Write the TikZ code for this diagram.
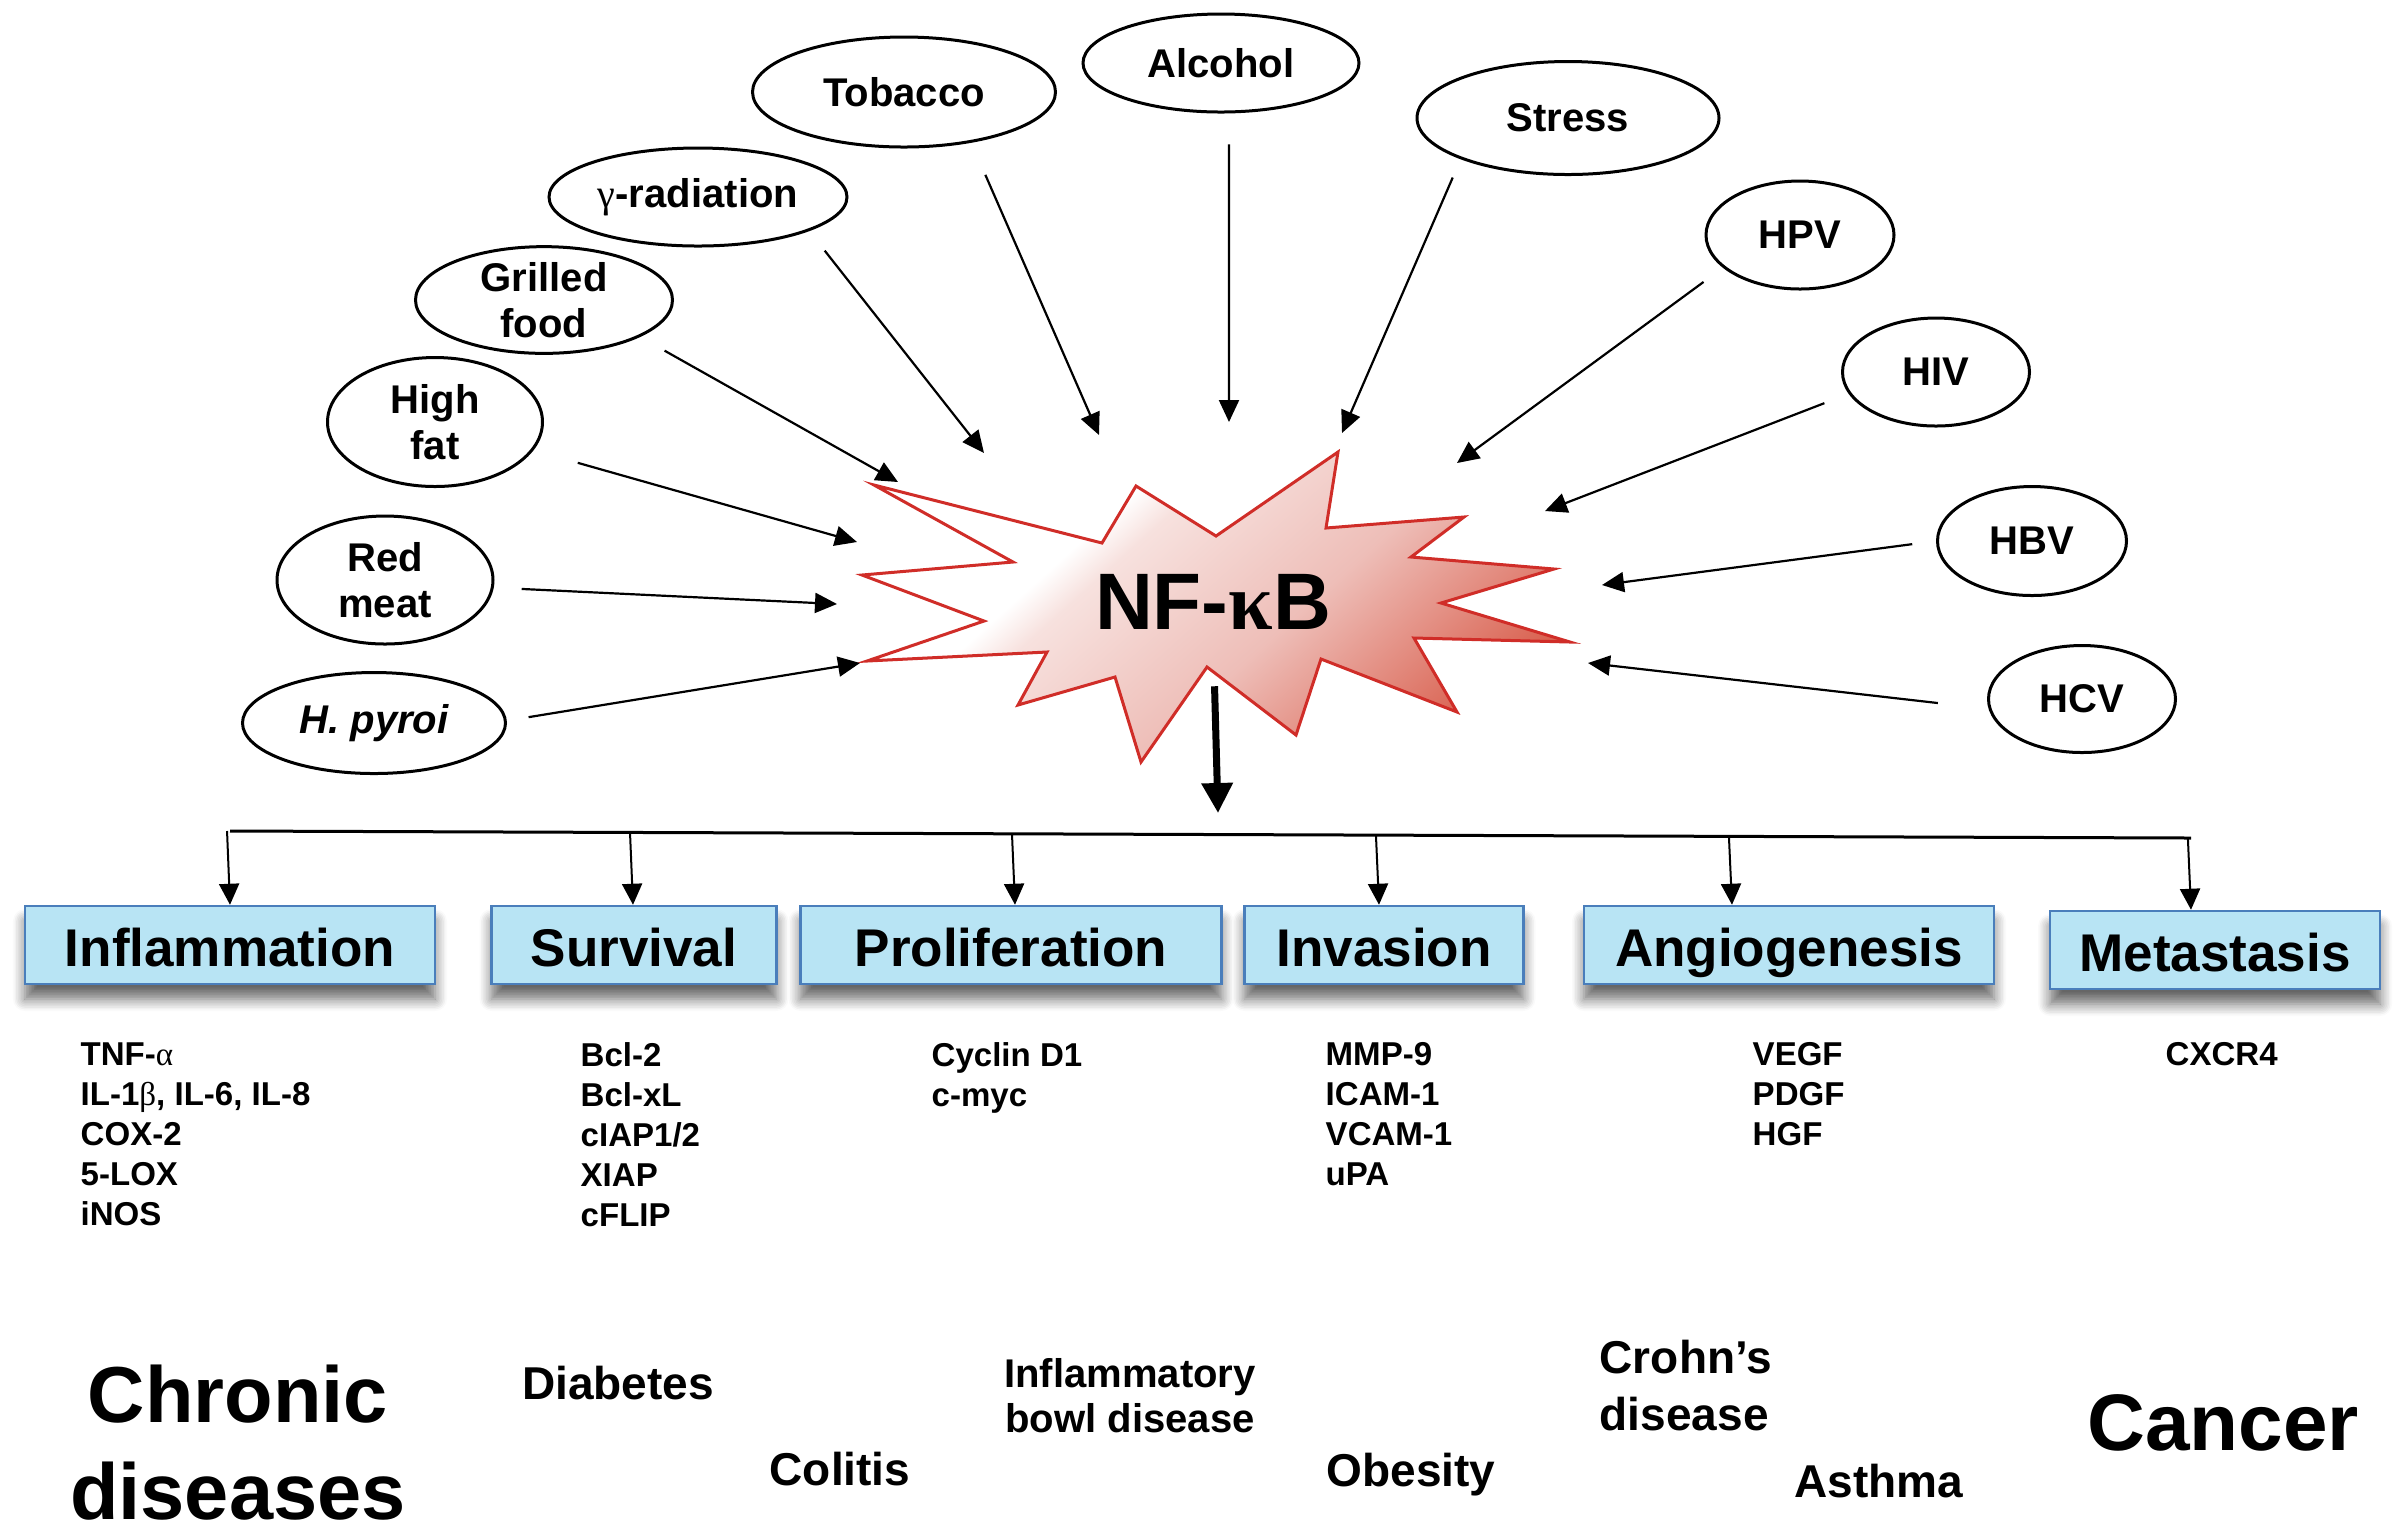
\documentclass[tikz,border=0pt]{standalone}
\usepackage{fontspec}
\setmainfont{Liberation Sans}
\newfontfamily\serifgr{Liberation Serif}
\usetikzlibrary{arrows.meta,shapes.geometric,shadows.blur,calc}
\definecolor{burstline}{RGB}{208,45,40}
\definecolor{burstpale}{RGB}{247,225,222}
\definecolor{burstpink}{RGB}{238,190,184}
\definecolor{burstred}{RGB}{216,92,74}
\definecolor{boxfill}{RGB}{184,228,244}
\definecolor{boxline}{RGB}{74,126,187}
\pgfdeclarehorizontalshading{burstfill}{100bp}{color(0bp)=(white); color(36bp)=(white); color(40bp)=(burstpale); color(56bp)=(burstpink); color(76bp)=(burstred); color(100bp)=(burstred)}
\newcommand{\gr}[1]{{\serifgr\mdseries #1}}
\tikzset{
  oval/.style n args={2}{ellipse, draw, line width=0.3mm, inner sep=0pt, align=center,
    minimum width=#1*0.1mm, minimum height=#2*0.1mm,
    font=\bfseries\fontsize{11.4}{13.1}\selectfont},
  hit/.style={-{Triangle[length=2.2mm,width=2mm]}, line width=0.22mm},
  outcome/.style n args={2}{draw=boxline, line width=0.25mm, fill=boxfill, inner sep=0pt,
    minimum width=#1*0.1mm, minimum height=#2*0.1mm, text height=4.2mm, text depth=0pt,
    font=\bfseries\fontsize{15.1}{18}\selectfont,
    blur shadow={shadow xshift=0pt, shadow yshift=-1.5mm, shadow blur radius=1.2mm, shadow blur steps=8, shadow opacity=60}},
  feed/.style={-{Triangle[length=2.1mm,width=2mm]}, line width=0.2mm},
  genes/.style={anchor=north west, align=left, inner sep=0pt,
    font=\bfseries\fontsize{9.4}{11.38}\selectfont},
  ill/.style={inner sep=0pt, font=\bfseries\fontsize{13.1}{15}\selectfont}
}

\begin{document}
\begin{tikzpicture}[x=0.1mm, y=-0.1mm]
  \useasboundingbox (0,0) rectangle (2408,1536);

  % the NF-kB burst
  \shadedraw[draw=burstline, line width=0.3mm, shading=burstfill, shading angle=-48]
    (874,485) -- (1102,543) -- (1136,486) -- (1216,536) -- (1338,452) -- (1326,528)
    -- (1464,517) -- (1411,557) -- (1554,569) -- (1441,603) -- (1570,642) -- (1414,638)
    -- (1457,712) -- (1321,659) -- (1296,735) -- (1207,667) -- (1141,762) -- (1115,677)
    -- (1018,705) -- (1047,652) -- (867,661) -- (984,621) -- (862,575) -- (1013,562) -- cycle;
  \node[inner sep=0pt, font=\bfseries\fontsize{22.8}{26}\selectfont] (nfkb) at (1213,602) {NF-{\serifgr κ}B};

  % causes
  \node[oval={303}{110}] (tobacco) at (904,92) {Tobacco};
  \node[oval={276}{98}] (alcohol) at (1221,63) {Alcohol};
  \node[oval={302}{113}] (stress) at (1568,118) {Stress};
  \node[oval={188}{108}] (hpv) at (1800,235) {HPV};
  \node[oval={187}{108}] (hiv) at (1936,372) {HIV};
  \node[oval={189}{109}] (hbv) at (2032,541) {HBV};
  \node[oval={187}{107}] (hcv) at (2082,699) {HCV};
  \node[oval={298}{98}] (gamma) at (698,197) {\gr{γ}-radiation};
  \node[oval={257}{103}] (grilled) at (544,300) {Grilled\\food};
  \node[oval={215}{129}] (highfat) at (435,422) {High\\fat};
  \node[oval={216}{128}] (redmeat) at (385,580) {Red\\meat};
  \node[oval={263}{101}] (hpyroi) at (374,723) {\itshape H. pyroi};

  \foreach \n/\a/\s/\x/\y in {tobacco/-37/3.5/1099/435, alcohol/-81/3.1/1229/422,
      stress/-159/2.0/1342/433, hpv/-157/2.4/1457/463, hiv/-166/2.6/1545/511,
      hbv/180/2.4/1602/585, hcv/-174/5.1/1588/663, gamma/-17/2.5/984/453,
      grilled/-21/2.8/898/482, highfat/-16/4.6/857/542, redmeat/-4/2.8/837/604,
      hpyroi/1/2.2/860/663}
  {
    \coordinate (\n-tip) at (\x,\y);
    \draw[hit, shorten <=\s mm] (\n.\a) -- (\n-tip);
  }

  % outcomes
  \node[outcome={410}{78}] (inflam) at (230,945) {Inflammation};
  \node[outcome={285}{78}] (surv) at (634,945) {Survival};
  \node[outcome={421}{78}] (prolif) at (1011,945) {Proliferation};
  \node[outcome={279}{78}] (invas) at (1384,945) {Invasion};
  \node[outcome={410}{78}] (angio) at (1789,945) {Angiogenesis};
  \node[outcome={330}{78}] (metas) at (2215,950) {Metastasis};

  \coordinate (hub) at (1218,813);
  \draw[line width=0.7mm, -{Triangle[length=3mm,width=3mm]}, shorten <=5.6mm] (nfkb.south) -- (hub);
  \coordinate (barL) at (230,831);
  \coordinate (barR) at (2191,838);
  \draw[line width=0.3mm] (barL) -- (barR);
  \foreach \x/\b in {230/inflam, 633/surv, 1015/prolif, 1379/invas, 1732/angio, 2191/metas}
    \draw[feed] ($(barL)!(\x,0)!(barR)$) -- (\x,0 |- \b.north);

  % target genes
  \node[genes] (g-inflam) at (80,1042) {TNF-\gr{α}\\IL-1\gr{β}, IL-6, IL-8\\COX-2\\5-LOX\\iNOS};
  \node[genes] (g-surv) at (580,1042) {Bcl-2\\Bcl-xL\\cIAP1/2\\XIAP\\cFLIP};
  \node[genes] (g-prolif) at (931,1042) {Cyclin D1\\c-myc};
  \node[genes] (g-invas) at (1325,1042) {MMP-9\\ICAM-1\\VCAM-1\\uPA};
  \node[genes] (g-angio) at (1752,1042) {VEGF\\PDGF\\HGF};
  \node[genes] (g-metas) at (2165,1042) {CXCR4};

  % diseases
  \node[ill, anchor=north, align=center, font=\bfseries\fontsize{22.6}{27.6}\selectfont] (chronic) at (238,1364) {Chronic\\diseases};
  \node[ill, anchor=base] (diabetes) at (618,1399) {Diabetes};
  \node[ill, anchor=base] (colitis) at (840,1485) {Colitis};
  \node[ill, anchor=north, align=center, font=\bfseries\fontsize{11.4}{12.8}\selectfont] (ibd) at (1130,1358) {Inflammatory\\bowl disease};
  \node[ill, anchor=base] (obesity) at (1411,1486) {Obesity};
  \node[ill, anchor=north west, align=left, font=\bfseries\fontsize{13.1}{16.2}\selectfont] (crohn) at (1599,1339) {Crohn’s\\disease};
  \node[ill, anchor=base] (asthma) at (1879,1497) {Asthma};
  \node[ill, anchor=base, font=\bfseries\fontsize{22.8}{27}\selectfont] (cancer) at (2223,1450) {Cancer};
\end{tikzpicture}
\end{document}
